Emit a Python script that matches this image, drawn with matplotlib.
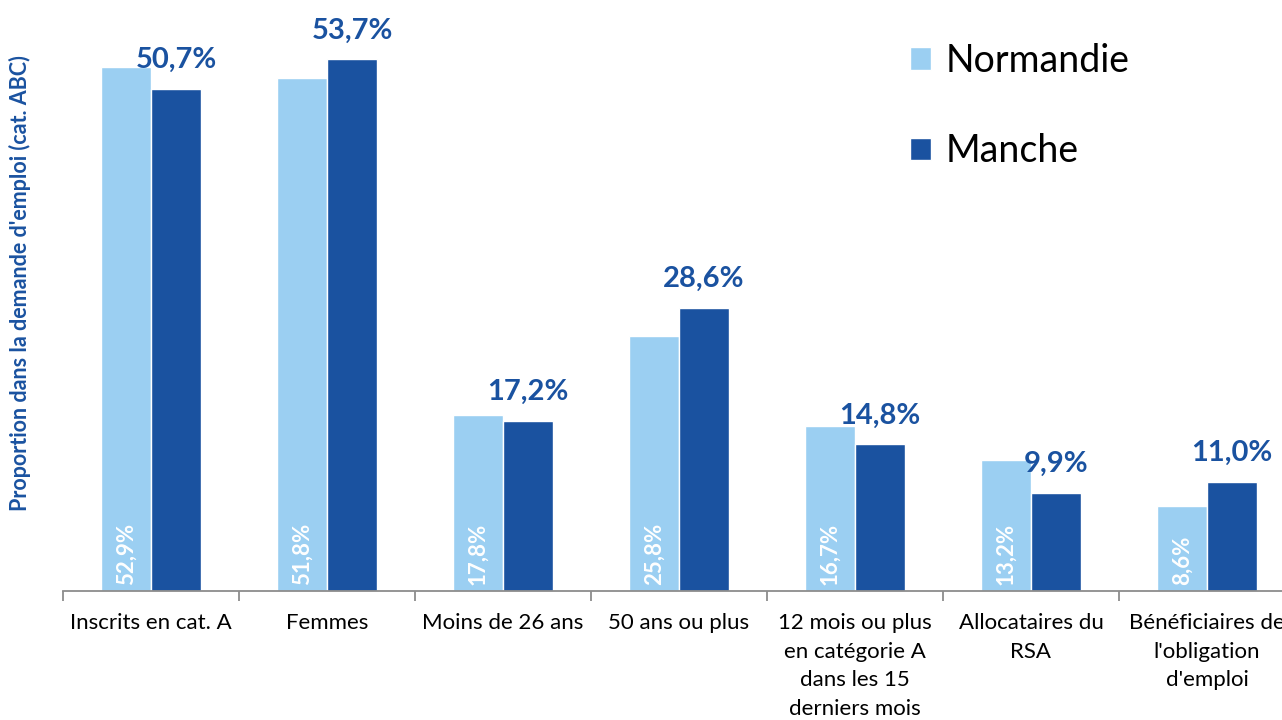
import numpy as np
import matplotlib.pyplot as plt

categories = ["Inscrits en cat. A", "Femmes", "Moins de 26 ans", "50 ans ou plus",
              "12 mois ou plus\nen catégorie A\ndans les 15\nderniers mois",
              "Allocataires du\nRSA", "Bénéficiaires de\nl'obligation\nd'emploi"]
normandie = [52.9, 51.8, 17.8, 25.8, 16.7, 13.2, 8.6]
manche = [50.7, 53.7, 17.2, 28.6, 14.8, 9.9, 11.0]

light = "#9BCFF2"
dark = "#1A52A0"

plt.rcParams['font.family'] = ['Lato', 'DejaVu Sans']

W, H = 1282, 720
fig = plt.figure(figsize=(W / 100, H / 100), dpi=100)
ax = fig.add_axes([63 / W, (H - 591) / H, 1232 / W, 590 / H])

x = np.arange(len(categories))
bw = 0.28
off = 0.142
ax.bar(x - off, normandie, bw, color=light, edgecolor="white", linewidth=1, label="Normandie")
ax.bar(x + off, manche, bw, color=dark, edgecolor="white", linewidth=1, label="Manche")

for xi, v in zip(x, normandie):
    ax.text(xi - off, 0.6, f"{v:.1f}%".replace(".", ","), rotation=90, ha="center", va="bottom",
            color="white", fontsize=16, fontweight="bold")
for xi, v in zip(x, manche):
    ax.text(xi + off, v + 1.6, f"{v:.1f}%".replace(".", ","), ha="center", va="bottom",
            color=dark, fontsize=21, fontweight="bold")

ax.set_xlim(-0.5, 6.5)
ax.set_ylim(0, 59.6)
ax.set_yticks([])
for s in ["top", "right", "left"]:
    ax.spines[s].set_visible(False)
ax.spines["bottom"].set_color("#8C8C8C")
ax.spines["bottom"].set_linewidth(1.3)

ax.set_xticks(x)
ax.set_xticklabels(categories, fontsize=16, linespacing=1.53, va="top")
ax.tick_params(axis="x", which="major", length=0, pad=16)
ax.set_xticks(np.arange(-0.5, 7, 1), minor=True)
ax.tick_params(axis="x", which="minor", length=7, color="#8C8C8C", width=1.3)

fig.text(20 / W, 0.607, "Proportion dans la demande d'emploi (cat. ABC)", rotation=90,
         ha="center", va="center", color=dark, fontsize=15.5, fontweight="bold")

ax.legend(loc="upper left", bbox_to_anchor=(895 / W, 1 - 28 / H), bbox_transform=fig.transFigure,
          frameon=False, fontsize=27, handlelength=0.55, handleheight=0.55, handletextpad=0.4,
          labelspacing=1.45, borderaxespad=0)

fig.savefig("out.png", dpi=100)
